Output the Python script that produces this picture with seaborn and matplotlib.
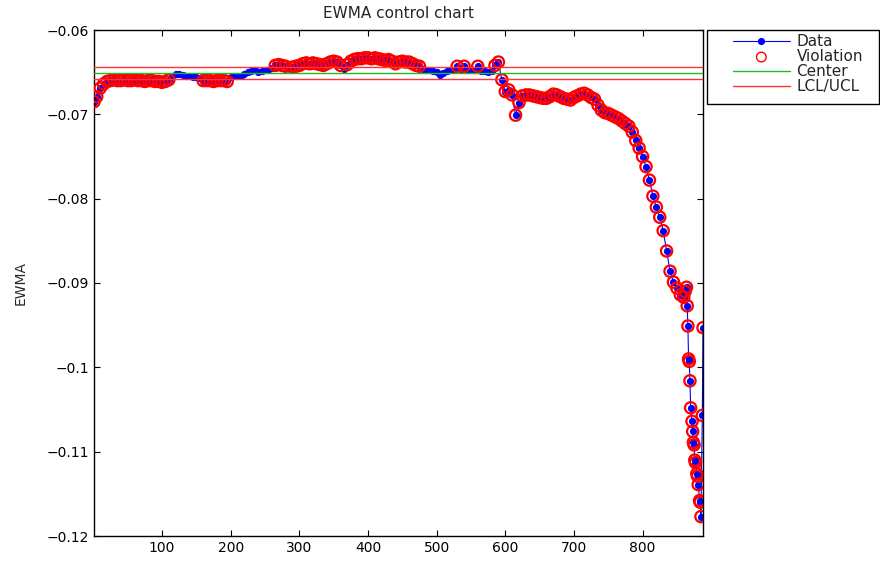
import pandas as pd
import seaborn as sns
import matplotlib
matplotlib.use('Agg')
import matplotlib.pyplot as plt
from matplotlib.patches import Rectangle

# sample numbers: every 5th sample up to 860, then the steep tail sample by sample
sample_no = [1] + list(range(5, 865, 5)) + [862, 864, 865, 866, 867, 868, 869, 870,
                                            872, 873, 874, 875, 876, 877, 879, 880,
                                            881, 883, 884, 885, 887, 888]

# EWMA values
ewma = [
    -0.0685,
    -0.0679, -0.0669, -0.0664, -0.0661, -0.0660, -0.0659, -0.0660, -0.0660, -0.0659, -0.0660,   # 5-50
    -0.0660, -0.0659, -0.0660, -0.0660, -0.0661, -0.0660, -0.0660, -0.0661, -0.0661, -0.0662,   # 55-100
    -0.0661, -0.0659, -0.0655, -0.0652, -0.0652, -0.0653, -0.0654, -0.0655, -0.0656, -0.0656,   # 105-150
    -0.0657, -0.0660, -0.0660, -0.0660, -0.0661, -0.0660, -0.0660, -0.0660, -0.0661, -0.0656,   # 155-200
    -0.0654, -0.0655, -0.0655, -0.0652, -0.0650, -0.0649, -0.0648, -0.0650, -0.0649, -0.0648,   # 205-250
    -0.0647, -0.0645, -0.0642, -0.0641, -0.0642, -0.0643, -0.0645, -0.0644, -0.0643, -0.0642,   # 255-300
    -0.0640, -0.0639, -0.0640, -0.0639, -0.0640, -0.0641, -0.0642, -0.0640, -0.0638, -0.0637,   # 305-350
    -0.0638, -0.0642, -0.0646, -0.0641, -0.0637, -0.0635, -0.0634, -0.0634, -0.0633, -0.0633,   # 355-400
    -0.0634, -0.0633, -0.0634, -0.0635, -0.0636, -0.0635, -0.0637, -0.0640, -0.0638, -0.0637,   # 405-450
    -0.0638, -0.0638, -0.0640, -0.0642, -0.0643, -0.0646, -0.0648, -0.0648, -0.0649, -0.0650,   # 455-500
    -0.0653, -0.0651, -0.0649, -0.0648, -0.0647, -0.0643, -0.0646, -0.0643, -0.0647, -0.0648,   # 505-550
    -0.0647, -0.0643, -0.0649, -0.0649, -0.0650, -0.0649, -0.0642, -0.0638, -0.0659, -0.0673,   # 555-600
    -0.0671, -0.0677, -0.0701, -0.0686, -0.0678, -0.0677, -0.0677, -0.0678, -0.0679, -0.0680,   # 605-650
    -0.0681, -0.0681, -0.0679, -0.0676, -0.0677, -0.0679, -0.0681, -0.0682, -0.0683, -0.0680,   # 655-700
    -0.0678, -0.0676, -0.0675, -0.0677, -0.0680, -0.0682, -0.0689, -0.0695, -0.0698, -0.0699,   # 705-750
    -0.0701, -0.0703, -0.0705, -0.0708, -0.0711, -0.0714, -0.0721, -0.0731, -0.0740, -0.0750,   # 755-800
    -0.0762, -0.0778, -0.0797, -0.0810, -0.0822, -0.0838, -0.0862, -0.0886, -0.0899, -0.0906,   # 805-850
    -0.0914, -0.0917,                                                                           # 855-860
    -0.0910, -0.0905, -0.0927, -0.0951, -0.0990, -0.0993, -0.1016, -0.1048,                     # tail
    -0.1064, -0.1076, -0.1089, -0.1092, -0.1110, -0.1113, -0.1126, -0.1129,
    -0.1139, -0.1158, -0.1160, -0.1177, -0.1057, -0.0953,
]

center = -0.06513
ucl = -0.06443
lcl = -0.06583

x_ticks = [100, 200, 300, 400, 500, 600, 700, 800]
y_ticks = [-0.12, -0.11, -0.10, -0.09, -0.08, -0.07, -0.06]

df = pd.DataFrame({'Sample': sample_no, 'EWMA': ewma})
df['Violation'] = (df['EWMA'] > ucl) | (df['EWMA'] < lcl)
viol = df[df['Violation']]

sns.set_style('ticks')
plt.rcParams['font.family'] = ['DejaVu Sans']
plt.rcParams['axes.edgecolor'] = 'black'
plt.rcParams['axes.linewidth'] = 1.0

fig = plt.figure(figsize=(8.8, 5.62), dpi=100)
ax = fig.add_axes([94 / 880, 1 - 536 / 562, 609 / 880, 506 / 562])

sns.lineplot(data=df, x='Sample', y='EWMA', ax=ax, color='#0000ff', linewidth=0.8,
             marker='o', markersize=5.2, markeredgewidth=0, sort=False,
             estimator=None, label='Data', zorder=2)
sns.scatterplot(data=viol, x='Sample', y='EWMA', ax=ax, marker='o', s=66,
                facecolors='none', edgecolor='#ff0000', linewidth=1.6,
                label='Violation', zorder=3)

ax.axhline(center, color='#22bb22', linewidth=1.0, label='Center', zorder=4)
ax.axhline(lcl, color='#ff3333', linewidth=1.0, label='LCL/UCL', zorder=4)
ax.axhline(ucl, color='#ff3333', linewidth=1.0, zorder=4)

ax.set_xlim(1, 888)
ax.set_ylim(-0.12, -0.06)
ax.set_xticks(x_ticks)
ax.set_xticklabels([str(t) for t in x_ticks])
ax.set_yticks(y_ticks)
ax.set_yticklabels([f"{v:g}".replace('-', '\u2212') for v in y_ticks])
ax.tick_params(direction='in', top=True, right=True, length=4, width=0.8,
               labelsize=10, colors='black')
for s in ax.spines.values():
    s.set_visible(True)
    s.set_color('black')

ax.set_xlabel('')
ax.set_ylabel('EWMA', fontsize=10, labelpad=14)
ax.set_title('EWMA control chart', fontsize=11, pad=9)

handles, labels = ax.get_legend_handles_labels()
leg = ax.legend(handles, labels, loc='upper left', bbox_to_anchor=(730 / 880, 1 - 31 / 562),
                bbox_transform=fig.transFigure, frameon=False, fontsize=11,
                handlelength=3.7, handletextpad=0.45, labelspacing=0.0,
                borderpad=0.2, borderaxespad=0)
# thinner circle in the legend, like the reference
leg.legend_handles[1].set_linewidth(1.0)
leg.legend_handles[1].set_sizes([48])
fig.add_artist(Rectangle((707 / 880, 1 - 104 / 562), 172 / 880, 74 / 562,
                         transform=fig.transFigure, fill=False,
                         edgecolor='black', linewidth=1.0))

fig.savefig('out.png', dpi=100)
